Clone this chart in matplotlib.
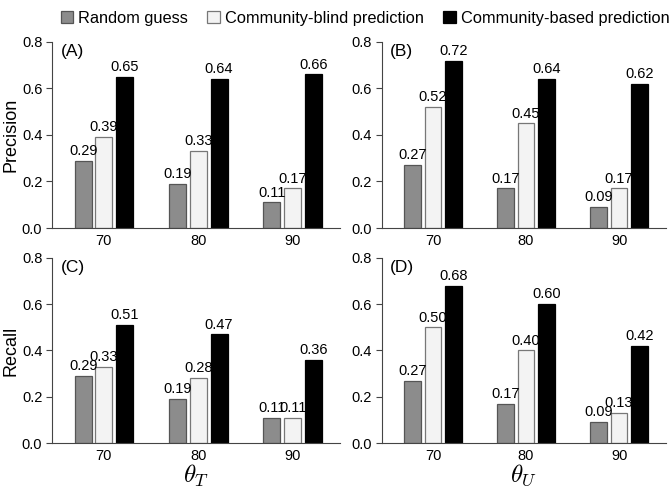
import matplotlib
matplotlib.use("Agg")
import matplotlib.pyplot as plt
import numpy as np

plt.rcParams['font.family'] = ['Liberation Sans', 'DejaVu Sans']
plt.rcParams['mathtext.fontset'] = 'cm'

categories = ["70", "80", "90"]
series_names = ["Random guess", "Community-blind prediction", "Community-based prediction"]

prec_T_random = [0.29, 0.19, 0.11]
prec_T_blind = [0.39, 0.33, 0.17]
prec_T_based = [0.65, 0.64, 0.66]

prec_U_random = [0.27, 0.17, 0.09]
prec_U_blind = [0.52, 0.45, 0.17]
prec_U_based = [0.72, 0.64, 0.62]

rec_T_random = [0.29, 0.19, 0.11]
rec_T_blind = [0.33, 0.28, 0.11]
rec_T_based = [0.51, 0.47, 0.36]

rec_U_random = [0.27, 0.17, 0.09]
rec_U_blind = [0.50, 0.40, 0.13]
rec_U_based = [0.68, 0.60, 0.42]

face = ["#8c8c8c", "#f3f3f3", "#000000"]
edge = ["#555555", "#777777", "#000000"]

fig = plt.figure(figsize=(6.71, 4.93), dpi=100)

panels = [
    ([0.0775, 0.5375, 0.429, 0.3775], "(A)", (prec_T_random, prec_T_blind, prec_T_based), "Precision", None),
    ([0.569, 0.5375, 0.423, 0.3775], "(B)", (prec_U_random, prec_U_blind, prec_U_based), None, None),
    ([0.0775, 0.1014, 0.429, 0.3753], "(C)", (rec_T_random, rec_T_blind, rec_T_based), "Recall", r"$\theta_T$"),
    ([0.569, 0.1014, 0.423, 0.3753], "(D)", (rec_U_random, rec_U_blind, rec_U_based), None, r"$\theta_U$"),
]

x = np.arange(len(categories))
w = 0.18
step = 0.22
handles = []
for rect, tag, data, ylab, xlab in panels:
    ax = fig.add_axes(rect)
    for i, vals in enumerate(data):
        b = ax.bar(x + (i - 1) * step, vals, width=w, color=face[i], edgecolor=edge[i], linewidth=0.9)
        if len(handles) < 3:
            handles.append(b)
        for xi, v in zip(x + (i - 1) * step, vals):
            ax.text(xi, v + 0.012, f"{v:.2f}", ha="center", va="bottom", fontsize=10.5)
    ax.set_xlim(-0.55, 2.5)
    ax.set_ylim(0, 0.8)
    ax.set_yticks([0, 0.2, 0.4, 0.6, 0.8])
    ax.set_yticklabels(["0.0", "0.2", "0.4", "0.6", "0.8"])
    ax.set_xticks(x)
    ax.set_xticklabels(categories)
    ax.tick_params(axis="x", length=0, labelsize=10.5, pad=4)
    ax.tick_params(axis="y", length=4, labelsize=10.5, width=0.8, color="#444444", pad=3)
    ax.spines["top"].set_visible(False)
    ax.spines["right"].set_visible(False)
    ax.spines["left"].set_color("#444444")
    ax.spines["bottom"].set_color("#444444")
    ax.text(0.03, 0.99, tag, transform=ax.transAxes, ha="left", va="top", fontsize=12.5)
    if ylab:
        ax.set_ylabel(ylab, fontsize=13, labelpad=2)
    if xlab:
        ax.set_xlabel(xlab, fontsize=18, labelpad=0)

fig.legend(handles, series_names, loc="upper center", bbox_to_anchor=(0.544, 1.008), ncol=3,
           frameon=False, fontsize=11.8, handlelength=0.75, handleheight=0.75,
           handletextpad=0.3, columnspacing=1.2)

fig.savefig("out.png", dpi=100)
